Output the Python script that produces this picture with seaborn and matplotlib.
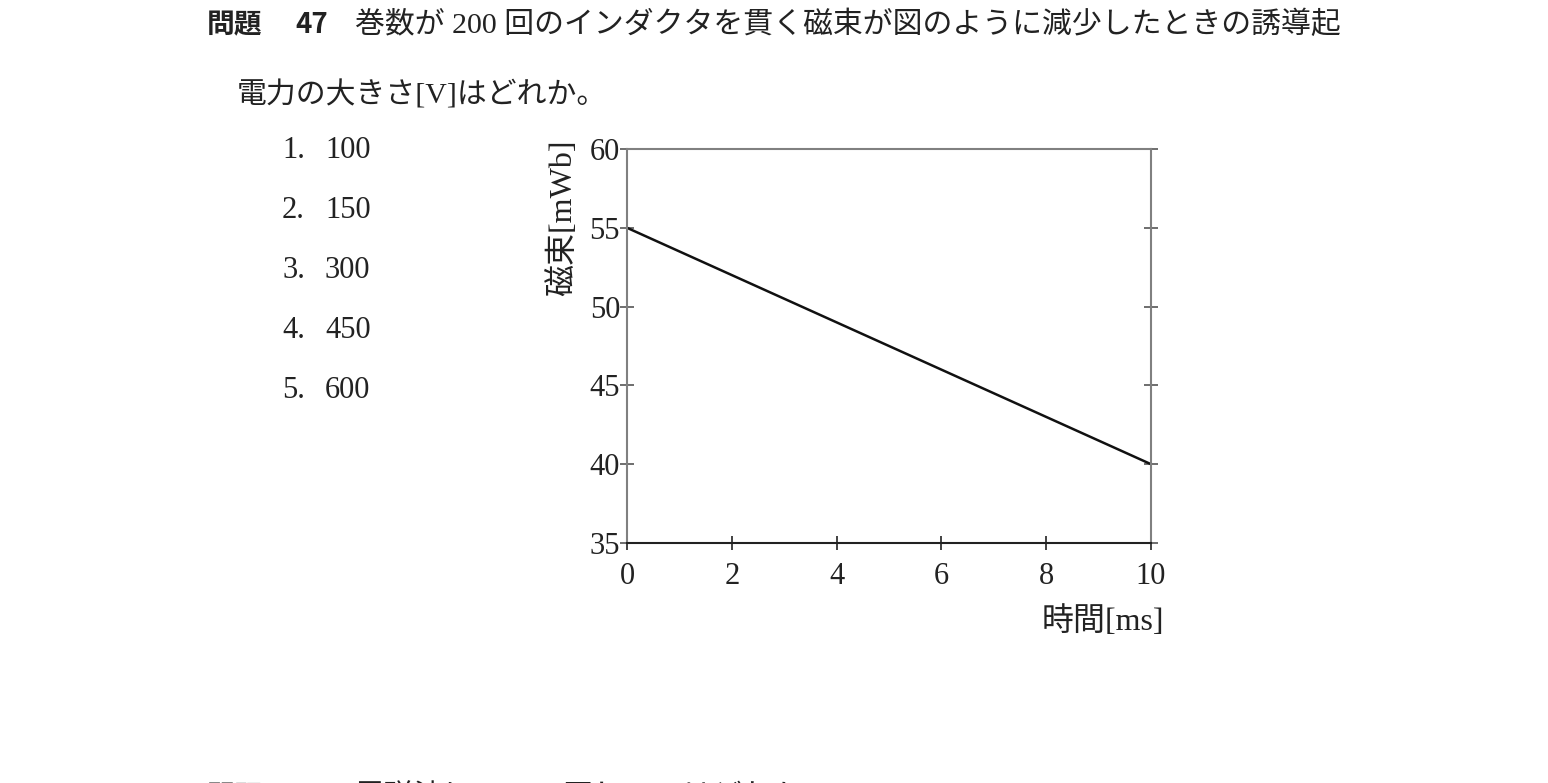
import matplotlib
matplotlib.use("Agg")
import matplotlib.pyplot as plt
import seaborn as sns
import pandas as pd

# data
time_ms = [0, 10]
flux_mwb = [55, 40]
x_ticks = [0, 2, 4, 6, 8, 10]
y_ticks = [35, 40, 45, 50, 55, 60]
choice_no = ["1.", "2.", "3.", "4.", "5."]
choice_val = ["100", "150", "300", "450", "600"]

question_head = "問題"
question_no = "47"
question_1 = "巻数が 200 回のインダクタを貫く磁束が図のように減少したときの誘導起"
question_2 = "電力の大きさ[V]はどれか。"
next_no = "48"
next_question = "電磁波について正しいのはどれか。"

sns.set_theme(style="white")
MIX = ["Liberation Serif", "Noto Sans CJK JP", "DejaVu Sans"]
GOTHIC = ["Noto Sans CJK JP", "DejaVu Sans"]
plt.rcParams["font.family"] = MIX

df = pd.DataFrame({"time": time_ms, "flux": flux_mwb})

W, H = 1548, 783
fig = plt.figure(figsize=(W / 100, H / 100), dpi=100)
fig.patch.set_facecolor("white")
ink = "#222222"


def px(x, y):
    return x / W, 1 - y / H


left, right, top, bottom = 627, 1151, 149, 543
ax = fig.add_axes([left / W, 1 - bottom / H, (right - left) / W, (bottom - top) / H])

sns.lineplot(data=df, x="time", y="flux", color="#111111", linewidth=1.8, ax=ax)

ax.set_xlim(0, 10)
ax.set_ylim(35, 60)
ax.set_xticks(x_ticks)
ax.set_yticks(y_ticks)
ax.set_xticklabels([str(v) for v in x_ticks])
ax.set_yticklabels([str(v) for v in y_ticks])
ax.set_xlabel("")
ax.set_ylabel("")

gray = "#808080"
for side in ["left", "top", "right"]:
    ax.spines[side].set_color(gray)
    ax.spines[side].set_linewidth(1.5)
ax.spines["bottom"].set_color(ink)
ax.spines["bottom"].set_linewidth(1.5)

ax.tick_params(axis="y", which="both", direction="inout", length=10, width=1.2,
               color="#555555", left=True, right=True, labelright=False,
               pad=0, labelsize=22, labelcolor=ink)
ax.tick_params(axis="x", which="both", direction="inout", length=10, width=1.2,
               color=ink, bottom=True, top=False, pad=9,
               labelsize=22, labelcolor=ink)
for lab in ax.get_xticklabels() + ax.get_yticklabels():
    lab.set_family("Liberation Serif")

# axis titles
fig.text(*px(563, 218), "磁束[mWb]", rotation=90, ha="center", va="center",
         fontsize=23, color=ink, family=MIX)
fig.text(*px(1164, 622), "時間[ms]", ha="right", va="center",
         fontsize=23, color=ink, family=MIX)

# question text
fig.text(*px(207, 25), question_head, ha="left", va="center", fontsize=20,
         fontweight="bold", color=ink, family=GOTHIC)
fig.text(*px(295, 25), question_no, ha="left", va="center", fontsize=20,
         fontweight="bold", color=ink, family=GOTHIC)
fig.text(*px(355, 25), question_1, ha="left", va="center", fontsize=21.5,
         color=ink, family=MIX)
fig.text(*px(237, 95), question_2, ha="left", va="center", fontsize=21.5,
         color=ink, family=MIX)

for i, (n, v) in enumerate(zip(choice_no, choice_val)):
    y = 150 + 60 * i
    fig.text(*px(282, y), n, ha="left", va="center", fontsize=22, color=ink, family=MIX)
    fig.text(*px(325, y), v, ha="left", va="center", fontsize=22, color=ink, family=MIX)

# next question, only its top edge shows at the bottom of the page
fig.text(*px(207, 805), question_head, ha="left", va="baseline", fontsize=20,
         fontweight="bold", color=ink, family=GOTHIC)
fig.text(*px(295, 805), next_no, ha="left", va="baseline", fontsize=20,
         fontweight="bold", color=ink, family=GOTHIC)
fig.text(*px(355, 805), next_question, ha="left", va="baseline", fontsize=21.5,
         color=ink, family=MIX)

fig.savefig("out.png", dpi=100, facecolor="white")
